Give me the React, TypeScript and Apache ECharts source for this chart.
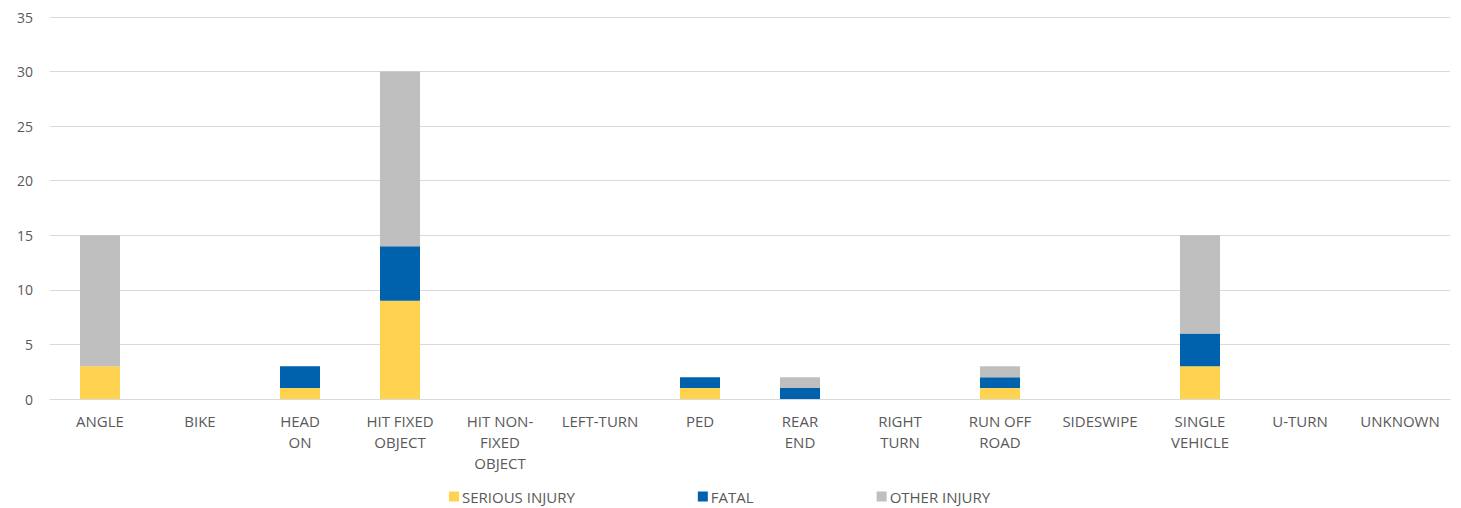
import React, { useEffect, useRef } from "react";
import * as echarts from "echarts";

const categories = [
  "ANGLE",
  "BIKE",
  "HEAD\nON",
  "HIT FIXED\nOBJECT",
  "HIT NON-\nFIXED\nOBJECT",
  "LEFT-TURN",
  "PED",
  "REAR\nEND",
  "RIGHT\nTURN",
  "RUN OFF\nROAD",
  "SIDESWIPE",
  "SINGLE\nVEHICLE",
  "U-TURN",
  "UNKNOWN",
];

const seriousInjury = [3, 0, 1, 9, 0, 0, 1, 0, 0, 1, 0, 3, 0, 0];
const fatal = [0, 0, 2, 5, 0, 0, 1, 1, 0, 1, 0, 3, 0, 0];
const otherInjury = [12, 0, 0, 16, 0, 0, 0, 1, 0, 1, 0, 9, 0, 0];

const FONT = "'Open Sans', 'Noto Sans', sans-serif";

export default function App() {
  const ref = useRef<HTMLDivElement>(null);
  useEffect(() => {
    if (!ref.current) return;
    const chart = echarts.init(ref.current, undefined, { renderer: "svg" });
    const mk = (name: string, data: number[], color: string) => ({
      name,
      type: "bar",
      stack: "total",
      data,
      barWidth: 40,
      itemStyle: { color },
    });
    chart.setOption({
      animation: false,
      grid: { left: 50, right: 11, top: 17, bottom: 109, containLabel: false },
      legend: {
        top: 484,
        left: 444,
        itemWidth: 10,
        itemHeight: 10,
        itemGap: 123,
        icon: "rect",
        textStyle: { color: "#595959", fontSize: 15, fontFamily: FONT, padding: [0, 0, 0, -2] },
        data: ["SERIOUS INJURY", "FATAL", "OTHER INJURY"],
      },
      xAxis: {
        type: "category",
        data: categories,
        axisLine: { lineStyle: { color: "#D9D9D9", width: 1 } },
        axisTick: { show: false },
        axisLabel: {
          color: "#595959",
          fontSize: 15,
          fontFamily: FONT,
          lineHeight: 21,
          margin: 11,
          interval: 0,
        },
      },
      yAxis: {
        type: "value",
        min: 0,
        max: 35,
        interval: 5,
        axisLine: { show: false },
        axisTick: { show: false },
        splitLine: { lineStyle: { color: "#D9D9D9", width: 1 } },
        axisLabel: { color: "#595959", fontSize: 14, fontFamily: FONT, margin: 17 },
      },
      series: [
        mk("SERIOUS INJURY", seriousInjury, "#FFD34F"),
        mk("FATAL", fatal, "#0061AC"),
        mk("OTHER INJURY", otherInjury, "#BFBFBF"),
      ],
    });
    return () => chart.dispose();
  }, []);
  return (
    <div
      ref={ref}
      style={{ position: "fixed", left: 0, top: 0, width: 1461, height: 508, background: "#fff" }}
    />
  );
}
